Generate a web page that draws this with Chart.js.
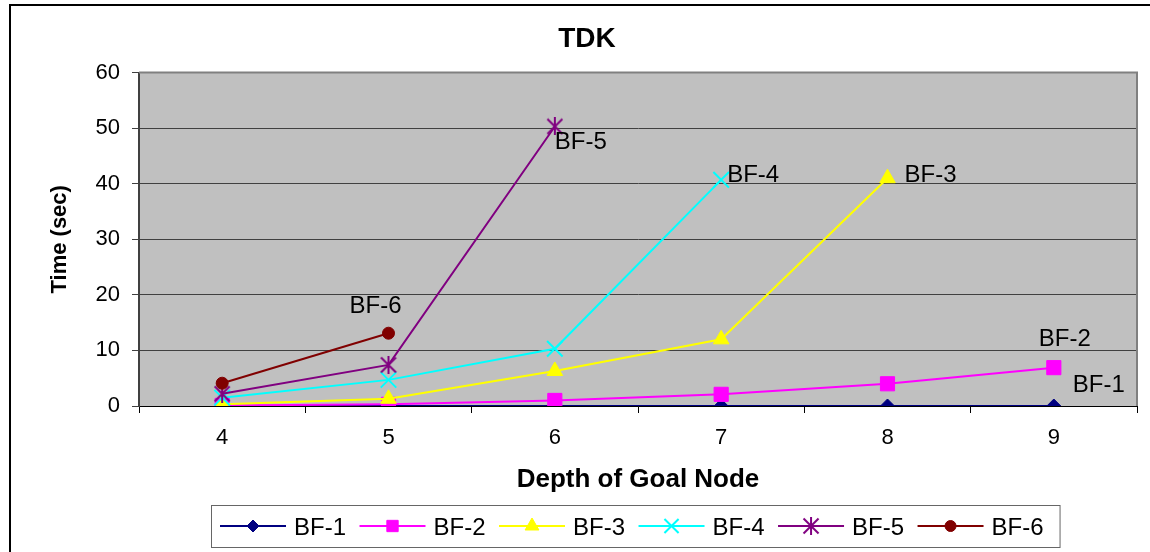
<!DOCTYPE html>
<html>
<head>
<meta charset="utf-8">
<script src="https://cdn.jsdelivr.net/npm/chart.js@4/dist/chart.umd.min.js"></script>
<style>
  html, body { margin: 0; padding: 0; background: #fff; }
  canvas { display: block; }
</style>
</head>
<body>
<canvas id="c" width="1150" height="552"></canvas>
<script>
// ---- data ----
const depths = ['4', '5', '6', '7', '8', '9'];
const seriesNames = ['BF-1', 'BF-2', 'BF-3', 'BF-4', 'BF-5', 'BF-6'];
const bf1 = [0, 0, 0, 0, 0, 0];
const bf2 = [0.1, 0.3, 1.0, 2.1, 4.0, 6.9];
const bf3 = [0.3, 1.3, 6.3, 12.0, 41.0];
const bf4 = [1.5, 4.7, 10.3, 40.7];
const bf5 = [2.2, 7.4, 50.3];
const bf6 = [4.1, 13.1];
const chartTitle = 'TDK';
const xTitle = 'Depth of Goal Node';
const yTitle = 'Time (sec)';

// ---- styling ----
const FONT = '"Liberation Sans", Arial, Helvetica, sans-serif';
Chart.defaults.font.family = FONT;
Chart.defaults.color = '#000';

// asterisk marker: an X crossed by a vertical stroke
function makeStar(color, size) {
  const c = document.createElement('canvas');
  c.width = c.height = size;
  const g = c.getContext('2d');
  g.strokeStyle = color;
  g.lineWidth = 2;
  const m = size / 2, d = size / 2 - 1.5;
  g.beginPath();
  g.moveTo(m - d, m - d); g.lineTo(m + d, m + d);
  g.moveTo(m + d, m - d); g.lineTo(m - d, m + d);
  g.moveTo(m, 0); g.lineTo(m, size);
  g.stroke();
  return c;
}

const seriesData = [bf1, bf2, bf3, bf4, bf5, bf6];
const seriesStyle = [
  { color: '#000080', pointStyle: 'rectRot',  radius: 7,  legendRadius: 6, border: 1, labelDx: 19,  labelDy: -14 },
  { color: '#FF00FF', pointStyle: 'rect',     radius: 10, legendRadius: 8, border: 1, labelDx: -15, labelDy: -22 },
  { color: '#FFFF00', pointStyle: 'triangle', radius: 9,  legendRadius: 8, border: 1, labelDx: 17,  labelDy: 4 },
  { color: '#00FFFF', pointStyle: 'crossRot', radius: 11, legendRadius: 10, border: 2, labelDx: 6,  labelDy: 2 },
  { color: '#800080', pointStyle: makeStar('#800080', 18), radius: 9, legendRadius: 9, border: 1, labelDx: 0, labelDy: 23 },
  { color: '#800000', pointStyle: 'circle',   radius: 6,  legendRadius: 5.5, border: 1, labelDx: -39, labelDy: -20 }
];

const datasets = seriesNames.map((name, i) => ({
  label: name,
  data: seriesData[i],
  order: seriesNames.length - i,   // later series drawn on top
  borderColor: seriesStyle[i].color,
  backgroundColor: seriesStyle[i].color,
  borderWidth: 2,
  tension: 0,
  pointStyle: seriesStyle[i].pointStyle,
  pointRadius: seriesStyle[i].radius,
  pointBackgroundColor: seriesStyle[i].color,
  pointBorderColor: seriesStyle[i].color,
  pointBorderWidth: seriesStyle[i].border
}));

// white page, outer frame and grey plot area
const framePlugin = {
  id: 'frame',
  beforeDraw(chart) {
    const { ctx, chartArea: a } = chart;
    ctx.save();
    ctx.fillStyle = '#fff';
    ctx.fillRect(0, 0, chart.width, chart.height);
    ctx.fillStyle = '#C0C0C0';
    ctx.fillRect(a.left, a.top, a.right - a.left, a.bottom - a.top);
    ctx.strokeStyle = '#000';
    ctx.lineWidth = 2;
    ctx.beginPath();
    ctx.moveTo(10, chart.height);
    ctx.lineTo(10, 5);
    ctx.lineTo(chart.width, 5);
    ctx.stroke();
    ctx.restore();
  },
  beforeDatasetsDraw(chart) {
    const { ctx, chartArea: a } = chart;
    ctx.save();
    ctx.strokeStyle = '#808080';
    ctx.lineWidth = 2;
    ctx.beginPath();
    ctx.moveTo(a.left, a.top);
    ctx.lineTo(a.right, a.top);
    ctx.lineTo(a.right, a.bottom);
    ctx.stroke();
    ctx.restore();
  }
};

// series name written beside each series' last point
const endLabelPlugin = {
  id: 'endLabels',
  afterDatasetsDraw(chart) {
    const ctx = chart.ctx;
    ctx.save();
    ctx.font = '24px ' + FONT;
    ctx.fillStyle = '#000';
    ctx.textAlign = 'left';
    ctx.textBaseline = 'alphabetic';
    chart.data.datasets.forEach((ds, i) => {
      const pts = chart.getDatasetMeta(i).data;
      const p = pts[pts.length - 1];
      ctx.fillText(ds.label, p.x + seriesStyle[i].labelDx, p.y + seriesStyle[i].labelDy);
    });
    ctx.restore();
  }
};

// boxed legend: line with marker, then name
const lineLegendPlugin = {
  id: 'lineLegend',
  afterDraw(chart) {
    const ctx = chart.ctx;
    const a = chart.chartArea;
    const lineLen = 66, gapLT = 8, gapTL = 13.5, padL = 9, padR = 16;
    ctx.save();
    ctx.font = '24px ' + FONT;
    const widths = chart.data.datasets.map(ds => ctx.measureText(ds.label).width);
    let total = padL + padR + gapTL * (widths.length - 1);
    widths.forEach(w => { total += lineLen + gapLT + w; });
    const boxLeft = Math.round((a.left + a.right) / 2 - total / 2) - 3;
    const boxTop = chart.scales.x.bottom + 3;
    const boxH = 42;
    ctx.strokeStyle = '#666';
    ctx.lineWidth = 1;
    ctx.strokeRect(boxLeft + 0.5, boxTop + 0.5, total, boxH);
    const cy = boxTop + boxH / 2;
    let x = boxLeft + padL;
    chart.data.datasets.forEach((ds, i) => {
      const st = seriesStyle[i];
      ctx.strokeStyle = st.color;
      ctx.lineWidth = 2;
      ctx.beginPath();
      ctx.moveTo(x, cy);
      ctx.lineTo(x + lineLen, cy);
      ctx.stroke();
      ctx.fillStyle = st.color;
      ctx.strokeStyle = st.color;
      ctx.lineWidth = st.border;
      Chart.helpers.drawPoint(ctx, { pointStyle: st.pointStyle, radius: st.legendRadius, borderWidth: st.border, rotation: 0 }, x + lineLen / 2, cy);
      x += lineLen + gapLT;
      ctx.fillStyle = '#000';
      ctx.textAlign = 'left';
      ctx.textBaseline = 'alphabetic';
      ctx.fillText(ds.label, x, cy + 8.5);
      x += widths[i] + gapTL;
    });
    ctx.restore();
  }
};

new Chart(document.getElementById('c'), {
  type: 'line',
  data: { labels: depths, datasets },
  options: {
    responsive: false,
    animation: false,
    events: [],
    layout: { padding: { left: 37, right: 13, top: 0, bottom: 50 } },
    plugins: {
      legend: { display: false },
      tooltip: { enabled: false },
      title: {
        display: true,
        text: chartTitle,
        color: '#000',
        font: { size: 28, weight: 'bold' },
        padding: { top: 22, bottom: 17 }
      }
    },
    scales: {
      x: {
        type: 'category',
        offset: true,
        afterFit(scale) { scale.height = 96; },
        grid: {
          display: true,
          drawOnChartArea: false,
          drawTicks: true,
          tickLength: 7,
          offset: true,
          color: '#000',
          tickColor: '#000'
        },
        border: { display: true, color: '#000', width: 1 },
        ticks: { color: '#000', padding: 12, font: { size: 22 }, maxRotation: 0 },
        title: {
          display: true,
          text: xTitle,
          color: '#000',
          font: { size: 26, weight: 'bold' },
          padding: { top: 0, bottom: 6.4 }
        }
      },
      y: {
        min: 0,
        max: 60,
        afterFit(scale) { scale.width = 102; },
        grid: {
          color: (c) => c.tick && c.tick.value === 0 ? '#000' : (c.tick && c.tick.value === 60 ? '#808080' : '#404040'),
          lineWidth: 1,
          tickLength: 7,
          tickColor: '#404040'
        },
        border: { display: true, color: '#404040', width: 2 },
        ticks: { stepSize: 10, color: '#000', padding: 12, font: { size: 22 } },
        title: {
          display: true,
          text: yTitle,
          color: '#000',
          font: { size: 22, weight: 'bold' },
          padding: { top: 10, bottom: 0 }
        }
      }
    }
  },
  plugins: [framePlugin, endLabelPlugin, lineLegendPlugin]
});
</script>
</body>
</html>
